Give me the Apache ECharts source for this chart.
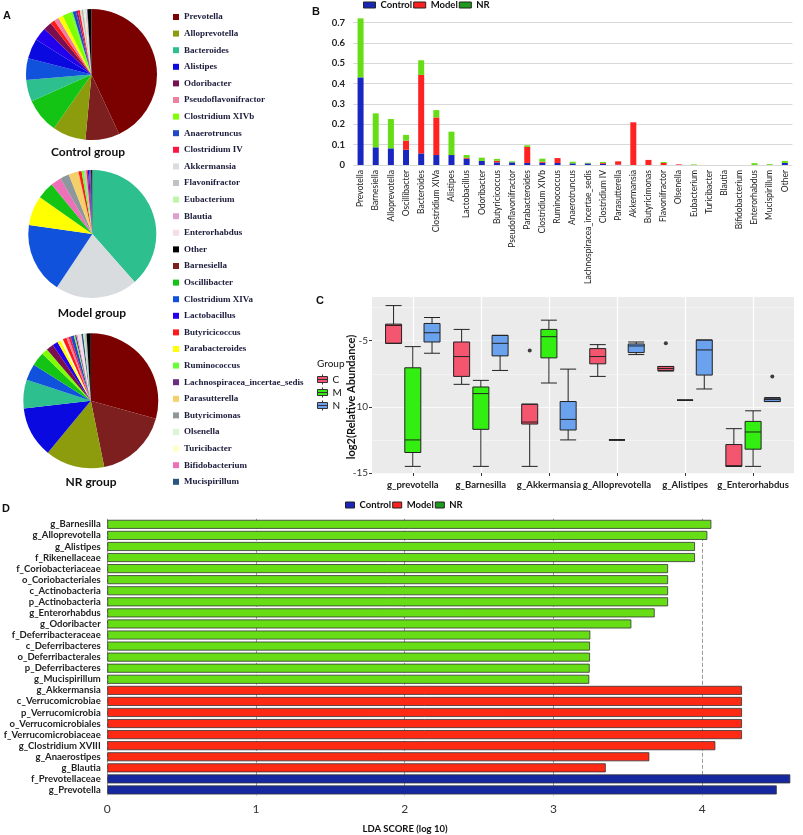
<!DOCTYPE html>
<html><head><meta charset="utf-8">
<script src="https://cdn.jsdelivr.net/npm/echarts@6/dist/echarts.min.js"></script>
<style>html,body{margin:0;padding:0;background:#fff}#c{width:803px;height:835px}</style>
</head><body><div id="c"></div>
<script>
// ---------- Panel A (pies) ----------
const genusLegend = ['Prevotella','Alloprevotella','Bacteroides','Alistipes','Odoribacter','Pseudoflavonifractor','Clostridium XIVb','Anaerotruncus','Clostridium IV','Akkermansia','Flavonifractor','Eubacterium','Blautia','Enterorhabdus','Other','Barnesiella','Oscillibacter','Clostridium XIVa','Lactobacillus','Butyricicoccus','Parabacteroides','Ruminococcus','Lachnospiracea_incertae_sedis','Parasutterella','Butyricimonas','Olsenella','Turicibacter','Bifidobacterium','Mucispirillum'];

const controlPieNames = ['Prevotella','Barnesiella','Alloprevotella','Oscillibacter','Bacteroides','Clostridium XIVa','Alistipes','Lactobacillus','Odoribacter','Butyricicoccus','Pseudoflavonifractor','Parabacteroides','Clostridium XIVb','Ruminococcus','Anaerotruncus','Lachnospiracea_incertae_sedis','Clostridium IV','Parasutterella','Akkermansia','Butyricimonas','Flavonifractor','Olsenella','Eubacterium','Turicibacter','Blautia','Bifidobacterium','Enterorhabdus','Mucispirillum','Other'];
const controlPieValues = [43.5, 8.5, 8.3, 8.7, 5.4, 5.4, 5.0, 3.3, 2.1, 1.1, 1.2, 1.2, 2.0, 0.6, 0.8, 0.5, 0.5, 0.2, 0.3, 0.2, 0.2, 0.3, 0.1, 0.1, 0.1, 0.1, 0.2, 0.1, 1.0];

const modelPieNames = ['Bacteroides','Akkermansia','Clostridium XIVa','Parabacteroides','Oscillibacter','Bifidobacterium','Butyricimonas','Parasutterella','Butyricicoccus','Ruminococcus','Flavonifractor','Clostridium IV','Lactobacillus','Anaerotruncus','Lachnospiracea_incertae_sedis','Other'];
const modelPieValues = [38.6, 20.9, 18.0, 7.5, 4.3, 2.7, 2.3, 2.5, 0.8, 0.6, 0.6, 0.4, 0.3, 0.3, 0.2, 0.3];

const nrPieNames = ['Prevotella','Barnesiella','Alloprevotella','Alistipes','Bacteroides','Clostridium XIVa','Oscillibacter','Clostridium XIVb','Odoribacter','Lactobacillus','Parabacteroides','Turicibacter','Butyricicoccus','Pseudoflavonifractor','Clostridium IV','Anaerotruncus','Ruminococcus','Lachnospiracea_incertae_sedis','Blautia','Enterorhabdus','Mucispirillum','Eubacterium','Flavonifractor','Other'];
const nrPieValues = [28.9, 17.3, 14.0, 12.0, 6.8, 3.9, 3.2, 1.5, 1.7, 1.3, 0.8, 0.6, 0.9, 0.5, 0.5, 0.8, 0.3, 0.3, 0.3, 0.9, 0.4, 0.3, 0.5, 1.0];

// ---------- Panel B (stacked bars) ----------
const barCategories = ['Prevotella','Barnesiella','Alloprevotella','Oscillibacter','Bacteroides','Clostridium XIVa','Alistipes','Lactobacillus','Odoribacter','Butyricicoccus','Pseudoflavonifractor','Parabacteroides','Clostridium XIVb','Ruminococcus','Anaerotruncus','Lachnospiracea_incertae_sedis','Clostridium IV','Parasutterella','Akkermansia','Butyricimonas','Flavonifractor','Olsenella','Eubacterium','Turicibacter','Blautia','Bifidobacterium','Enterorhabdus','Mucispirillum','Other'];
const barControl = [0.431, 0.087, 0.082, 0.075, 0.057, 0.049, 0.049, 0.031, 0.020, 0.013, 0.013, 0.010, 0.011, 0.010, 0.008, 0.008, 0.006, 0.002, 0, 0, 0, 0, 0, 0, 0, 0, 0, 0, 0.010];
const barModel   = [0, 0, 0, 0.045, 0.386, 0.185, 0, 0.004, 0, 0.008, 0, 0.079, 0.005, 0.024, 0, 0, 0.004, 0.016, 0.210, 0.025, 0.010, 0.003, 0, 0, 0, 0, 0, 0, 0];
const barNR      = [0.290, 0.167, 0.144, 0.028, 0.072, 0.036, 0.115, 0.014, 0.016, 0.009, 0.005, 0.008, 0.015, 0, 0.008, 0.003, 0.005, 0, 0, 0, 0.005, 0, 0.003, 0, 0, 0, 0.009, 0.004, 0.010];

// ---------- Panel C (boxplots) ----------
const boxCategories = ['g_prevotella','g_Barnesilla','g_Akkermansia','g_Alloprevotella','g_Alistipes','g_Enterorhabdus'];
const boxC = [[-5.2,-5.2,-3.85,-3.75,-2.35],[-8.3,-7.7,-6.2,-5.1,-4.15],[-14.5,-11.3,-11.15,-9.8,-9.8],[-7.7,-6.75,-6.2,-5.6,-5.3],[-7.3,-7.25,-7.1,-6.95,-6.95],[-14.5,-14.5,-14.45,-12.85,-11.65]];
const boxM = [[-14.5,-13.45,-12.5,-7.05,-5.45],[-14.5,-11.7,-9.0,-8.5,-8.0],[-8.2,-6.3,-4.7,-4.15,-3.45],[-12.5,-12.5,-12.5,-12.5,-12.5],[-9.5,-9.5,-9.5,-9.5,-9.5],[-14.5,-13.2,-11.9,-11.1,-10.3]];
const boxN = [[-5.95,-5.1,-4.4,-3.7,-3.25],[-7.25,-6.15,-5.2,-4.6,-4.6],[-12.5,-11.75,-10.95,-9.6,-7.15],[-6.05,-5.9,-5.4,-5.25,-5.1],[-8.65,-7.6,-5.7,-4.95,-4.95],[-9.6,-9.6,-9.45,-9.35,-9.3]];
const outliersC = [['g_Akkermansia', -5.75], ['g_Alistipes', -5.2]];
const outliersN = [['g_Enterorhabdus', -7.7]];
const boxTicks = [-15, -10, -5];

// ---------- Panel D (LDA) ----------
const ldaNames = ['g_Barnesilla','g_Alloprevotella','g_Alistipes','f_Rikenellaceae','f_Coriobacteriaceae','o_Coriobacteriales','c_Actinobacteria','p_Actinobacteria','g_Enterorhabdus','g_Odoribacter','f_Deferribacteraceae','c_Deferribacteres','o_Deferribacterales','p_Deferribacteres','g_Mucispirillum','g_Akkermansia','c_Verrucomicrobiae','p_Verrucomicrobia','o_Verrucomicrobiales','f_Verrucomicrobiaceae','g_Clostridium XVIII','g_Anaerostipes','g_Blautia','f_Prevotellaceae','g_Prevotella'];
const ldaValues = [4.062, 4.035, 3.952, 3.952, 3.771, 3.771, 3.771, 3.771, 3.681, 3.524, 3.248, 3.246, 3.246, 3.244, 3.241, 4.268, 4.268, 4.268, 4.268, 4.268, 4.089, 3.645, 3.352, 4.593, 4.502];
const ldaGroups = ['NR','NR','NR','NR','NR','NR','NR','NR','NR','NR','NR','NR','NR','NR','NR','Model','Model','Model','Model','Model','Model','Model','Model','Control','Control'];
const ldaTicks = [0, 1, 2, 3, 4];

// ---------- styles ----------
const genusColors = {
  'Prevotella':'#7b0000','Alloprevotella':'#8c9c0c','Bacteroides':'#2dbf8e','Alistipes':'#0a0ae0','Odoribacter':'#7a0f4f',
  'Pseudoflavonifractor':'#f07fa0','Clostridium XIVb':'#7fff00','Anaerotruncus':'#2248c8','Clostridium IV':'#ff1744',
  'Akkermansia':'#d8dcdf','Flavonifractor':'#bfc3c7','Eubacterium':'#bdf5a8','Blautia':'#dca0d0','Enterorhabdus':'#f5dde6',
  'Other':'#000000','Barnesiella':'#7d1f1f','Oscillibacter':'#14c414','Clostridium XIVa':'#1152dd','Lactobacillus':'#2200ee',
  'Butyricicoccus':'#ff1a1a','Parabacteroides':'#ffff00','Ruminococcus':'#66ff33','Lachnospiracea_incertae_sedis':'#6a2f80',
  'Parasutterella':'#f5cf6a','Butyricimonas':'#8e979c','Olsenella':'#ddf5d0','Turicibacter':'#ffffc8','Bifidobacterium':'#ee70b8',
  'Mucispirillum':'#2a5580'
};
const groupColors = {Control:'#1a26c0', Model:'#ff2222', NR:'#66dd14'};
const ldaColors = {Control:'#1628a0', Model:'#ff2a14', NR:'#66dd14'};
const legendIconColors = {Control:'#1a26b8', Model:'#ff2020', NR:'#1e9a1e'};
const boxColors = {C:'#f4566f', M:'#33ee11', N:'#6aa2ee'};

function pieSeries(names, values, center, radius) {
  return {
    type:'pie', center:center, radius:radius, startAngle:90, clockwise:true,
    label:{show:false}, labelLine:{show:false}, emphasis:{disabled:true}, silent:true,
    itemStyle:{borderWidth:0},
    data: names.map((n,i)=>({name:n, value:values[i], itemStyle:{color:genusColors[n]}}))
  };
}

const groups = ['Control','Model','NR'];
const barArrays = {Control:barControl, Model:barModel, NR:barNR};

const series = [
  pieSeries(controlPieNames, controlPieValues, [91.5, 74.5], 65.5),
  pieSeries(modelPieNames, modelPieValues, [92.3, 234], 64),
  pieSeries(nrPieNames, nrPieValues, [90.8, 400.8], 67.5)
];
groups.forEach(g => series.push({
  type:'bar', name:g, stack:'b', xAxisIndex:0, yAxisIndex:0, barWidth:6,
  itemStyle:{color:groupColors[g]}, emphasis:{disabled:true}, data:barArrays[g]
}));
[['C',boxC],['M',boxM],['N',boxN]].forEach(([n,d]) => series.push({
  type:'boxplot', name:n, xAxisIndex:1, yAxisIndex:1, boxWidth:[16,16], data:d,
  itemStyle:{color:boxColors[n], borderColor:'#222', borderWidth:1}, emphasis:{disabled:true}
}));
series.push({type:'scatter', name:'C outliers', xAxisIndex:1, yAxisIndex:1, symbolSize:4, symbolOffset:[-19.2,0], itemStyle:{color:'#111'}, data:outliersC});
series.push({type:'scatter', name:'N outliers', xAxisIndex:1, yAxisIndex:1, symbolSize:4, symbolOffset:[19.2,0], itemStyle:{color:'#111'}, data:outliersN});
groups.forEach(g => series.push({
  type:'bar', name:g, stack:'d', xAxisIndex:3, yAxisIndex:4, barWidth:9,
  itemStyle:{color:ldaColors[g], borderColor:'#333', borderWidth:0.8}, emphasis:{disabled:true},
  data: ldaValues.map((v,i)=> ldaGroups[i]===g ? v : '-')
}));

function txt(text, x, y, font, align, extra) {
  return Object.assign({type:'text', x:x, y:y, silent:true,
    style:{text:text, font:font, fill:'#111', align:align, textAlign:align, verticalAlign:'middle', textVerticalAlign:'middle'}}, extra||{});
}

const grpLegendData = groups.map(g => ({name:g, itemStyle:{color:legendIconColors[g]}}));
const boxLegendData = ['C','M','N'].map(n => ({name:n, itemStyle:{color:boxColors[n]}}));

const option = {
  animation:false,
  backgroundColor:'#fff',
  textStyle:{fontFamily:'Lato'},
  grid:[
    {left:353, top:12.5, width:439.4, height:152.5},
    {left:412.8, top:297, width:340.3, height:176},
    {left:372, top:297, width:422, height:176, show:true, backgroundColor:'#ebebeb', borderWidth:0},
    {left:107.3, top:518.8, width:687, height:276.7}
  ],
  legend:[
    {data:genusLegend, orient:'vertical', left:173, top:12, padding:0, itemWidth:6, itemHeight:6, itemGap:6.6, icon:'rect', selectedMode:false,
     textStyle:{fontFamily:'Liberation Serif', fontWeight:'bold', fontSize:9, color:'#1b1b3b', lineHeight:10}},
    {data:grpLegendData, left:363, top:0, padding:0, itemWidth:12, itemHeight:6, itemGap:1, icon:'rect', selectedMode:false,
     itemStyle:{borderColor:'#222', borderWidth:1},
     textStyle:{fontFamily:'Lato', fontWeight:'bold', fontSize:9.5, color:'#111', lineHeight:10}},
    {data:grpLegendData, left:345, top:500, padding:0, itemWidth:9, itemHeight:6, itemGap:1, icon:'rect', selectedMode:false,
     itemStyle:{borderColor:'#222', borderWidth:1},
     textStyle:{fontFamily:'Lato', fontWeight:'bold', fontSize:9.5, color:'#111', lineHeight:10}},
    {data:boxLegendData, orient:'vertical', left:317, top:374, padding:0, itemWidth:10, itemHeight:10, itemGap:2, selectedMode:false,
     icon:'path://M5,0L5,2M0,2L10,2L10,8L0,8ZM0,5L10,5M5,8L5,10',
     itemStyle:{borderColor:'#333', borderWidth:1},
     textStyle:{fontFamily:'Lato', fontSize:10, color:'#111', lineHeight:10}}
  ],
  xAxis:[
    {type:'category', gridIndex:0, data:barCategories, axisLine:{show:false}, axisTick:{show:false},
     axisLabel:{rotate:90, interval:0, fontSize:8.5, color:'#222', margin:5}},
    {type:'category', gridIndex:1, data:boxCategories, boundaryGap:false, axisLine:{show:false}, z:1,
     axisTick:{show:true, length:3, interval:0, lineStyle:{color:'#333'}},
     axisLabel:{interval:0, fontWeight:'bold', fontSize:9.5, color:'#222', margin:7},
     splitLine:{show:true, interval:0, lineStyle:{color:'#fff', width:1.2}}},
    {type:'value', gridIndex:2, show:false, min:0, max:1},
    {type:'value', gridIndex:3, min:0, max:4.62, interval:1, axisLine:{show:false}, axisTick:{show:false},
     axisLabel:{fontSize:12, color:'#333', margin:8, customValues:ldaTicks},
     splitLine:{showMaxLine:false, lineStyle:{type:'dashed', color:'#9a9a9a', width:1}}}
  ],
  yAxis:[
    {type:'value', gridIndex:0, min:0, max:0.75, interval:0.1, axisLine:{show:false}, axisTick:{show:false},
     axisLabel:{showMaxLabel:false, fontWeight:'bold', fontSize:9.5, color:'#222', margin:8,
       formatter:v => v===0 ? '0' : v.toFixed(1)},
     splitLine:{showMaxLine:false, lineStyle:{color:'#d8d8d8'}}},
    {type:'value', gridIndex:1, min:-15, max:-1.7, show:false},
    {type:'value', gridIndex:2, min:-15, max:-1.7, interval:5, axisLine:{show:false}, z:1,
     axisTick:{show:true, length:3, lineStyle:{color:'#333'}, customValues:boxTicks},
     axisLabel:{fontSize:10, color:'#333', margin:4, customValues:boxTicks},
     splitLine:{showMaxLine:false, lineStyle:{color:'#fff', width:1.2}}},
    {type:'value', gridIndex:2, min:-15, max:-1.7, interval:2.5, axisLine:{show:false}, axisTick:{show:false}, z:1,
     axisLabel:{show:false}, splitLine:{showMaxLine:false, lineStyle:{color:'#f8f8f8', width:0.6}}},
    {type:'category', gridIndex:3, data:ldaNames, inverse:true, axisLine:{show:false}, axisTick:{show:false},
     axisLabel:{fontWeight:'bold', fontSize:9.5, color:'#222', margin:6.6, interval:0}}
  ],
  graphic:[
    txt('A', 3, 15.5, 'bold 11px "Liberation Sans"', 'left'),
    txt('B', 312, 11.5, 'bold 11px "Liberation Sans"', 'left'),
    txt('C', 316, 301, 'bold 11px "Liberation Sans"', 'left'),
    txt('D', 2, 508.5, 'bold 11px "Liberation Sans"', 'left'),
    txt('Control group', 88, 152, 'bold 12px Lato', 'center'),
    txt('Model group', 92, 313, 'bold 12px Lato', 'center'),
    txt('NR group', 91, 482, 'bold 12px Lato', 'center'),
    txt('Group', 317, 364, '10px Lato', 'left'),
    txt('log2(Relative Abundance)', 351, 397, 'bold 11px Lato', 'center', {rotation:Math.PI/2}),
    txt('LDA SCORE (log 10)', 405, 829, 'bold 9.5px Lato', 'center')
  ],
  series:series
};

const chart = echarts.init(document.getElementById('c'), null, {renderer:'canvas'});
chart.setOption(option);
</script></body></html>
